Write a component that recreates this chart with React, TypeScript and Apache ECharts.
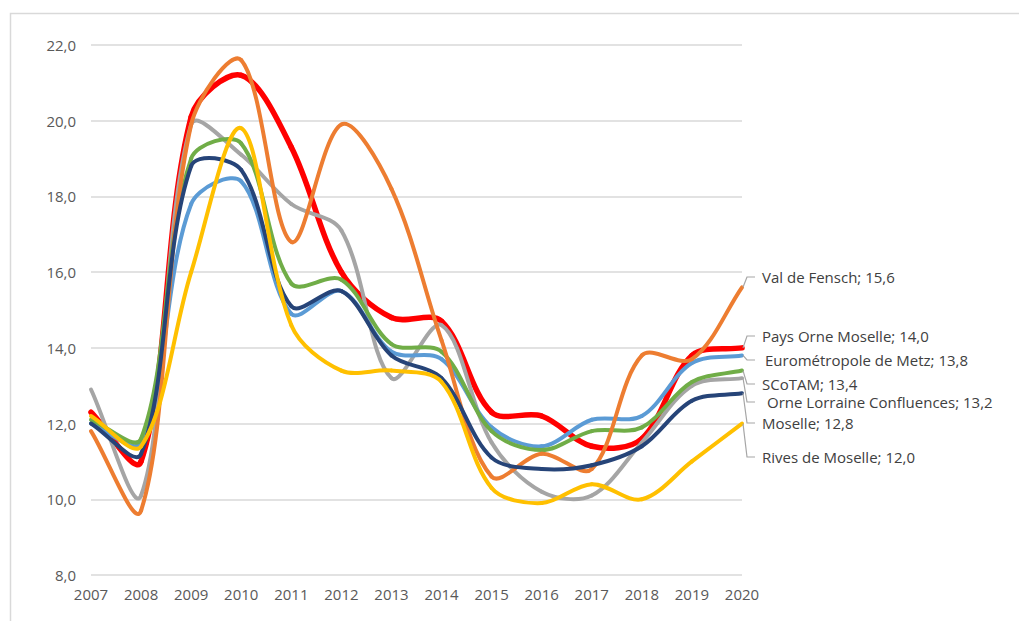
import React, { useEffect, useRef } from "react";
import * as echarts from "echarts";

const years = ["2007", "2008", "2009", "2010", "2011", "2012", "2013", "2014", "2015", "2016", "2017", "2018", "2019", "2020"];

const paysOrneMoselle = [12.3, 11.0, 20.1, 21.2, 19.3, 16.0, 14.8, 14.7, 12.3, 12.2, 11.4, 11.6, 13.8, 14.0];
const orneLorraine = [12.9, 10.1, 19.9, 19.1, 17.8, 17.1, 13.2, 14.6, 11.5, 10.2, 10.1, 11.5, 13.0, 13.2];
const eurometropole = [12.0, 11.5, 17.8, 18.4, 14.9, 15.5, 13.9, 13.7, 11.9, 11.4, 12.1, 12.2, 13.6, 13.8];
const scotam = [12.1, 11.6, 19.0, 19.4, 15.7, 15.8, 14.1, 13.9, 11.8, 11.3, 11.8, 11.9, 13.1, 13.4];
const valDeFensch = [11.8, 9.7, 19.9, 21.6, 16.8, 19.9, 18.2, 14.2, 10.6, 11.2, 10.8, 13.8, 13.7, 15.6];
const moselle = [12.0, 11.2, 18.8, 18.7, 15.1, 15.5, 13.8, 13.2, 11.1, 10.8, 10.9, 11.4, 12.6, 12.8];
const rivesDeMoselle = [12.2, 11.4, 16.0, 19.8, 14.6, 13.4, 13.4, 13.1, 10.3, 9.9, 10.4, 10.0, 11.0, 12.0];

const seriesDefs = [
  { name: "Pays Orne Moselle", data: paysOrneMoselle, color: "#FF0000", width: 5.5, labelY: 336, dx: 0 },
  { name: "Orne Lorraine Confluences", data: orneLorraine, color: "#A5A5A5", width: 4, labelY: 402, dx: 5 },
  { name: "Eurométropole de Metz", data: eurometropole, color: "#5B9BD5", width: 4, labelY: 360, dx: 3 },
  { name: "SCoTAM", data: scotam, color: "#70AD47", width: 4, labelY: 384, dx: 0 },
  { name: "Val de Fensch", data: valDeFensch, color: "#ED7D31", width: 4, labelY: 277, dx: 0 },
  { name: "Moselle", data: moselle, color: "#264478", width: 4, labelY: 423, dx: 0 },
  { name: "Rives de Moselle", data: rivesDeMoselle, color: "#FFC000", width: 4, labelY: 457, dx: 0 },
];

const FONT = "'Open Sans', 'Noto Sans', sans-serif";

function makeRenderItem(arr: number[], color: string, width: number) {
  return (params: any, api: any) => {
    const i = params.dataIndex;
    const n = arr.length;
    if (i >= n - 1) return { type: "group", children: [] };
    const P = (j: number) => {
      const k = Math.max(0, Math.min(n - 1, j));
      return api.coord([k, arr[k]]);
    };
    const dist = (a: number[], b: number[]) => Math.hypot(a[0] - b[0], a[1] - b[1]);
    // control points weighted by adjacent segment lengths
    const ctrl = (j: number) => {
      const prev = P(j - 1);
      const cur = P(j);
      const next = P(j + 1);
      const vx = next[0] - prev[0];
      const vy = next[1] - prev[1];
      let d0 = dist(prev, cur);
      let d1 = dist(cur, next);
      const s = d0 + d1;
      if (s > 0) {
        d0 /= s;
        d1 /= s;
      }
      const k = 1 / 3;
      return {
        in: [cur[0] - vx * k * d0, cur[1] - vy * k * d0],
        out: [cur[0] + vx * k * d1, cur[1] + vy * k * d1],
      };
    };
    const p1 = P(i);
    const p2 = P(i + 1);
    const c1 = ctrl(i).out;
    const c2 = ctrl(i + 1).in;
    return {
      type: "bezierCurve",
      shape: {
        x1: p1[0],
        y1: p1[1],
        cpx1: c1[0],
        cpy1: c1[1],
        cpx2: c2[0],
        cpy2: c2[1],
        x2: p2[0],
        y2: p2[1],
      },
      style: { stroke: color, lineWidth: width, fill: "none", lineCap: "round", lineJoin: "round" },
      silent: true,
    };
  };
}

export default function App() {
  const ref = useRef<HTMLDivElement>(null);
  useEffect(() => {
    if (!ref.current) return;
    const chart = echarts.init(ref.current, undefined, { renderer: "svg" });
    chart.setOption({
      animation: false,
      backgroundColor: "#ffffff",
      grid: { left: 91, right: 277, top: 45, bottom: 46, containLabel: false },
      xAxis: {
        type: "category",
        data: years,
        boundaryGap: false,
        axisLine: { show: false },
        axisTick: { show: false },
        axisLabel: { color: "#595959", fontSize: 15, fontFamily: FONT, margin: 11 },
        splitLine: { show: false },
      },
      yAxis: {
        type: "value",
        min: 8,
        max: 22,
        interval: 2,
        axisLine: { show: false },
        axisTick: { show: false },
        axisLabel: {
          color: "#595959",
          fontSize: 15,
          fontFamily: FONT,
          margin: 15,
          formatter: (v: number) => v.toFixed(1).replace(".", ","),
        },
        splitLine: { lineStyle: { color: "#D9D9D9", width: 1.5 } },
      },
      series: seriesDefs.map((s) => ({
        name: s.name,
        type: "custom",
        coordinateSystem: "cartesian2d",
        data: s.data.map((v, i) => [i, v]),
        encode: { x: 0, y: 1 },
        clip: false,
        renderItem: makeRenderItem(s.data, s.color, s.width),
      })),
    });

    const graphics: any[] = [
      {
        type: "rect",
        shape: { x: 10.5, y: 13.5, width: 1100, height: 700 },
        style: { fill: "none", stroke: "#D9D9D9", lineWidth: 1.5 },
        silent: true,
        z: -10,
      },
    ];
    seriesDefs.forEach((s) => {
      const last = s.data.length - 1;
      const p = chart.convertToPixel({ gridIndex: 0 }, [last, s.data[last]]) as number[];
      if (!p) return;
      const x0 = p[0];
      const y0 = p[1];
      graphics.push({
        type: "polyline",
        shape: { points: [[x0 + 1, y0], [x0 + 5, s.labelY], [x0 + 13, s.labelY]] },
        style: { stroke: "#A6A6A6", lineWidth: 1.2, fill: "none" },
        silent: true,
        z: 10,
      });
      graphics.push({
        type: "text",
        x: x0 + 20 + s.dx,
        y: s.labelY,
        style: {
          text: `${s.name}; ${s.data[last].toFixed(1).replace(".", ",")}`,
          fill: "#404040",
          fontSize: 15,
          fontFamily: FONT,
          verticalAlign: "middle",
          align: "left",
        },
        silent: true,
        z: 10,
      });
    });
    chart.setOption({ graphic: graphics });

    return () => chart.dispose();
  }, []);
  return (
    <div
      ref={ref}
      style={{ position: "fixed", left: 0, top: 0, width: 1019, height: 621 }}
    />
  );
}
